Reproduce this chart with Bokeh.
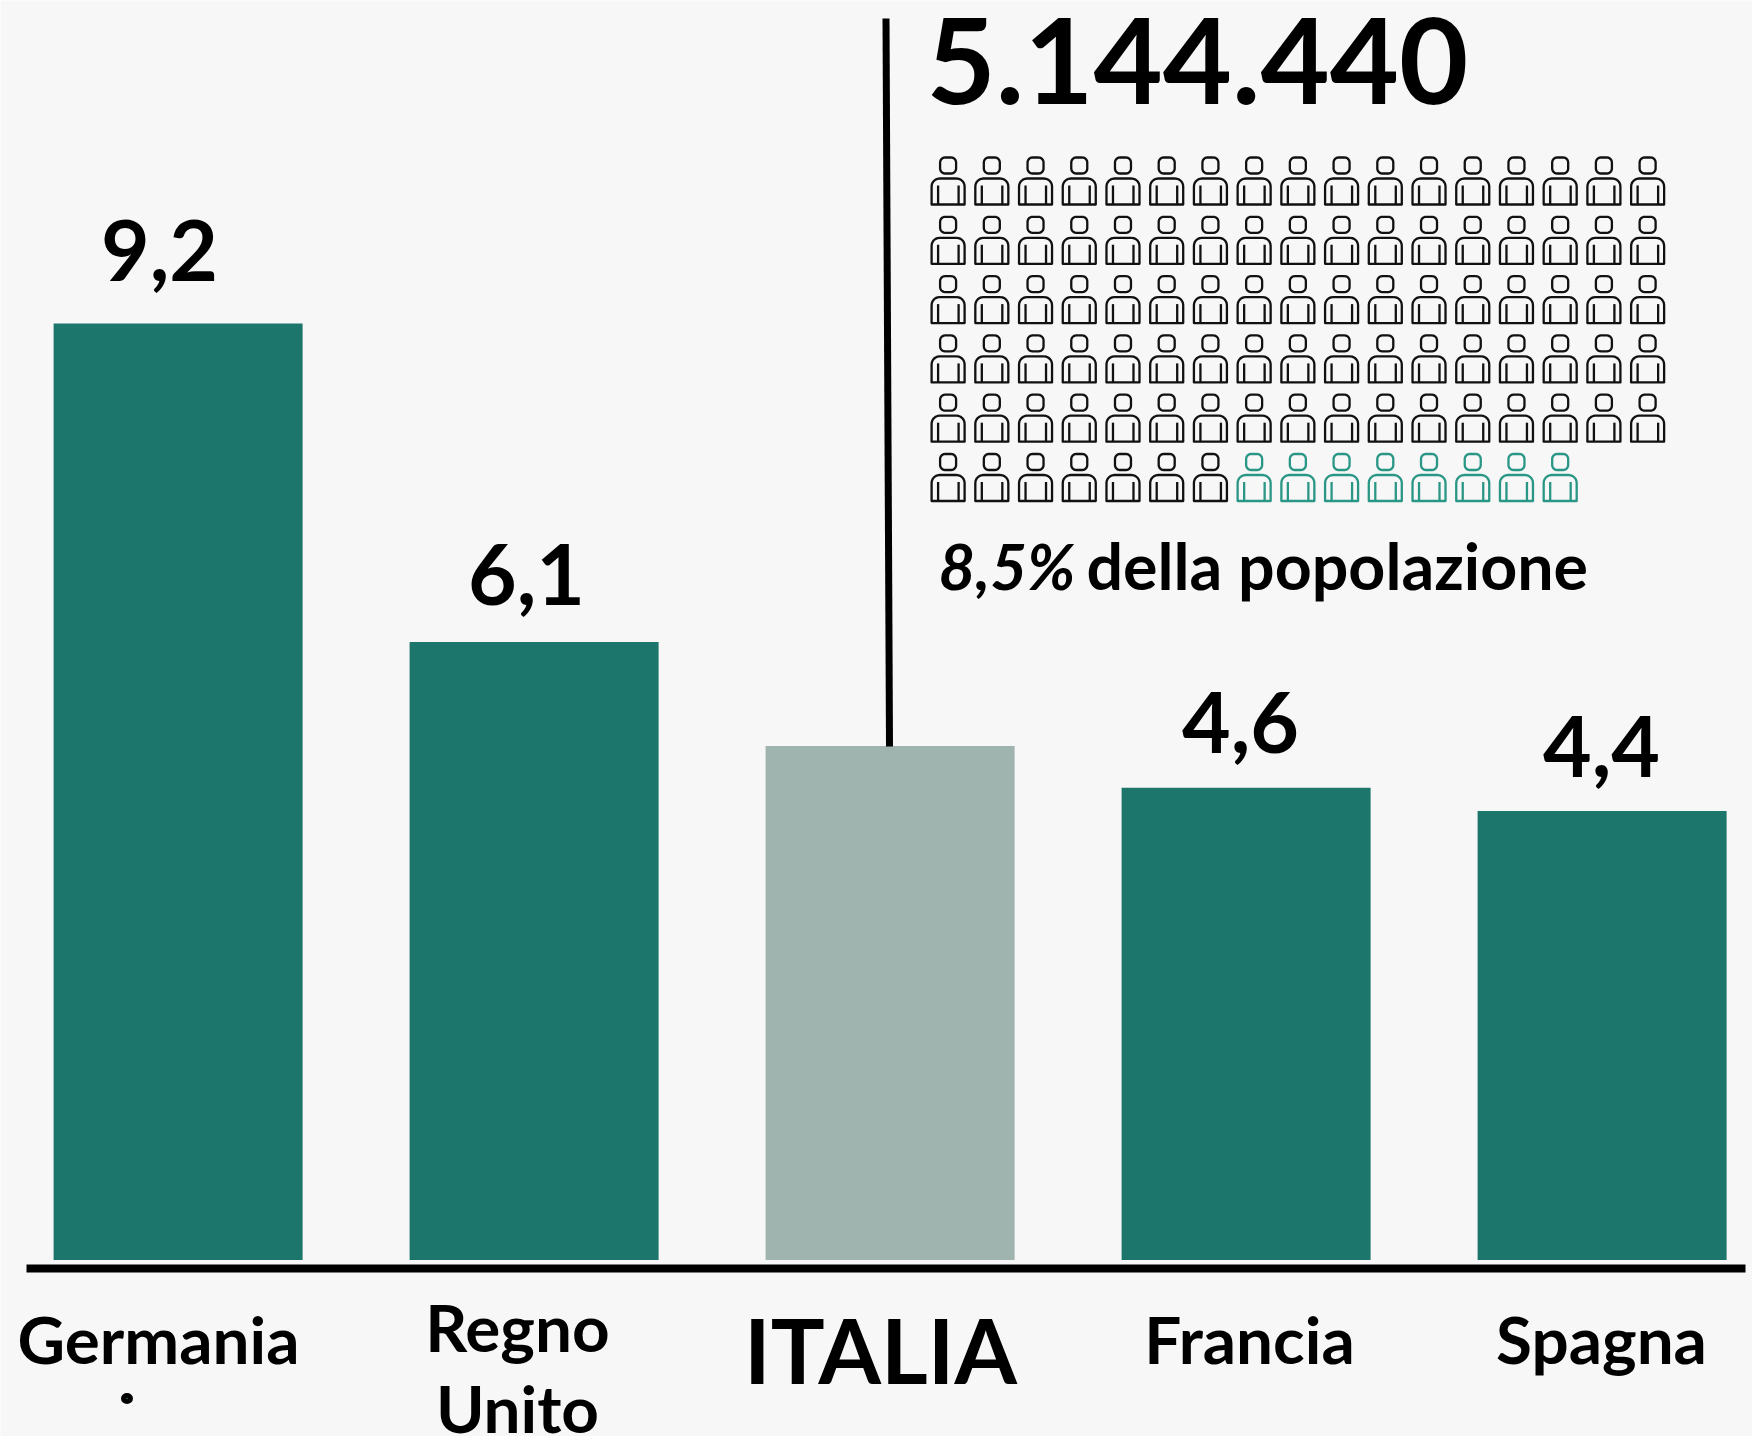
from bokeh.plotting import figure
from bokeh.embed import file_html
from bokeh.resources import INLINE
from bokeh.core.properties import value
import math

countries = ["Germania", "Regno\nUnito", "ITALIA", "Francia", "Spagna"]
bar_values = [9.2, 6.07, 5.05, 4.64, 4.41]
value_labels = ["9,2", "6,1", None, "4,6", "4,4"]
headline = "5.144.440"
share_text = "8,5%"
share_rest = "della popolazione"
icons_dark = 92
icons_teal = 8
icons_per_row = 17

BG, TEAL, GREY, ICON_TEAL = "#f7f7f7", "#1c766b", "#9fb3af", "#2a9685"
W, H = 1752, 1436
PITCH, UNIT, BASE = 356.0, 101.8, 1259.5
X0 = 177.6


def dx(px):
    return (px - X0) / PITCH


def dy(py):
    return (BASE - py) / UNIT


p = figure(width=W, height=H, output_backend="svg", toolbar_location=None,
           x_range=(dx(0), dx(W)), y_range=(dy(H), dy(0)),
           x_axis_location=None, y_axis_location=None, min_border=0,
           background_fill_color=BG, border_fill_color=BG, outline_line_color=None)
p.xgrid.visible = False
p.ygrid.visible = False

idx = list(range(len(countries)))
colors = [GREY if c == "ITALIA" else TEAL for c in countries]
p.vbar(x=idx, top=bar_values, bottom=0, width=249 / PITCH, color=colors, line_color=None)

# baseline and leader
p.line([dx(26), dx(1745)], [dy(1268), dy(1268)], line_color="black", line_width=8, line_cap="butt")
p.line([dx(885.5), dx(889)], [dy(18), dy(746)], line_color="black", line_width=7, line_cap="butt")


def label(txt, px, py, size, align="center", font="Lato", style="bold"):
    p.text([dx(px)], [dy(py - 0.35 * size)], text=[txt], text_font=value(font), text_font_style=style,
            text_font_size=f"{size}px", text_align=align, text_baseline="alphabetic",
            text_color="black")


for txt, px, py in zip(value_labels, [159, 526, 0, 1240, 1601], [279, 603, 0, 751, 775]):
    if txt:
        label(txt, px, py, 84)

label("Germania", 158, 1361, 65.6)
label("Regno", 517, 1349, 65.6)
label("Unito", 517, 1430, 65.6)
label("ITALIA", 880, 1380, 90)
label("Francia", 1249, 1361, 65.6)
label("Spagna", 1601, 1361, 65.6)

label(headline, 926, 102, 119.5, align="left")
label(share_text, 938, 587, 63.5, align="left", style="bold italic")
label(share_rest, 1086, 587, 64.5, align="left")

# germania stray mark
p.ellipse([dx(126.5)], [dy(1398)], width=7 / PITCH, height=6 / UNIT, fill_color=TEAL,
          line_color="black", line_width=5)


def rrect(x0, y0, x1, y1, r_top, r_bot):
    pts = []
    for cx, cy, a0, r in [(x1 - r_top, y0 + r_top, -90, r_top), (x1 - r_bot, y1 - r_bot, 0, r_bot),
                          (x0 + r_bot, y1 - r_bot, 90, r_bot), (x0 + r_top, y0 + r_top, 180, r_top)]:
        for k in range(7):
            a = math.radians(a0 + 15 * k)
            pts.append((cx + r * math.cos(a), cy + r * math.sin(a)))
    pts.append(pts[0])
    return pts


xs, ys, cs = [], [], []
for n in range(icons_dark + icons_teal):
    row, col = divmod(n, icons_per_row)
    cx = 947.6 + col * 43.72
    ty = 156 + row * 59.3
    col_ = "#111111" if n < icons_dark else ICON_TEAL
    shapes = [rrect(cx - 8, ty + 1, cx + 8, ty + 17, 5, 5),
              rrect(cx - 16.5, ty + 22, cx + 16.5, ty + 48, 8, 0),
              [(cx - 10, ty + 29), (cx - 10, ty + 48)],
              [(cx + 10.5, ty + 29), (cx + 10.5, ty + 48)]]
    for s in shapes:
        xs.append([dx(a) for a, _ in s])
        ys.append([dy(b) for _, b in s])
        cs.append(col_)
p.multi_line(xs, ys, line_color=cs, line_width=2.3, line_join="round")

open("out.html", "w").write(file_html(p, INLINE))
